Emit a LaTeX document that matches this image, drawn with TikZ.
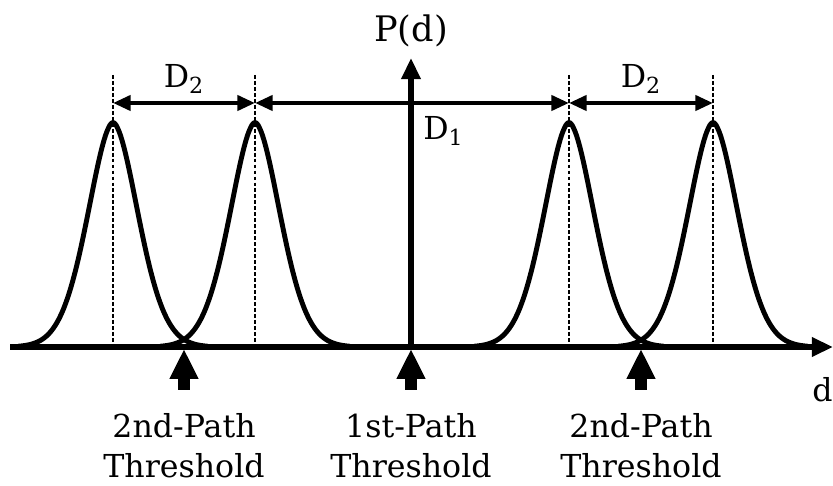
\documentclass[tikz,border=0pt]{standalone}
\usepackage{fontspec}
\setmainfont{DejaVu Serif}
\usepackage{tikz}
\usetikzlibrary{arrows.meta,calc}

\begin{document}
\begin{tikzpicture}[x=0.02cm, y=-0.02cm, font=\fontsize{18}{22.7}\selectfont,
		axis/.style={line width=3.4pt, -{Triangle[length=12pt, width=10.5pt]}},
		pulse/.style={line width=2.8pt, line join=round, samples=140},
		guide/.style={line width=1pt, dash pattern=on 2.2pt off 1.2pt},
		dim/.style={line width=2.3pt, {Triangle[length=10pt, width=8.5pt]}-{Triangle[length=10pt, width=8.5pt]}},
		thresh/.style={line width=6.8pt, -{Triangle[length=17pt, width=15.3pt]}}]
		\useasboundingbox (0,0) rectangle (833,486);
		% axes
		\coordinate (xstart) at (10,347);
		\coordinate (xend) at (833,347);
		\coordinate (origin) at (411,347);
		\coordinate (ytop) at (411,58);
		\draw[axis] (xstart) -- (xend);
		\draw[axis] (origin) -- (ytop);
		\node[anchor=base, inner sep=0pt, font=\fontsize{20}{24}\selectfont] (pd) at (411,42) {P(d)};
		\node[anchor=base east, inner sep=0pt] (dlab) at (833,402) {d};
		% pulses: 347 - 224.5 exp(-(|x-m|/36)^1.8)
		\foreach \i/\m/\lo/\hi in {1/113/18/208, 2/255/160/350, 3/569/474/664, 4/713/618/808} {
			\coordinate (top\i) at (\m,75);
			\coordinate (foot\i) at (\m,347);
			\coordinate (dim\i) at (\m,103);
			\draw[guide] (top\i) -- (foot\i);
			\draw[pulse, domain=\lo:\hi] plot (\x, {347-224.5*exp(-((abs(\x-\m)+0.001)/36)^1.8)});
		}
		% distances
		\draw[dim] (dim1) -- node[anchor=base, yshift=9pt, inner sep=0pt] (dtwoleft) {D\textsubscript{2}} (dim2);
		\draw[dim] (dim2) -- (dim3);
		\node[anchor=base west, inner sep=0pt] (done) at (423,140) {D\textsubscript{1}};
		\draw[dim] (dim3) -- node[anchor=base, yshift=9pt, inner sep=0pt] (dtworight) {D\textsubscript{2}} (dim4);
		% thresholds
		\foreach \j/\m/\txt in {a/184/2nd, b/411/1st, c/641/2nd} {
			\coordinate (tail\j) at (\m,390);
			\coordinate (tip\j) at (\m,349);
			\draw[thresh] (tail\j) -- (tip\j);
			\node[anchor=north, align=center, inner sep=0pt] (lab\j) at (\m,413) {\txt-Path\\Threshold};
		}
	\end{tikzpicture}
\end{document}
